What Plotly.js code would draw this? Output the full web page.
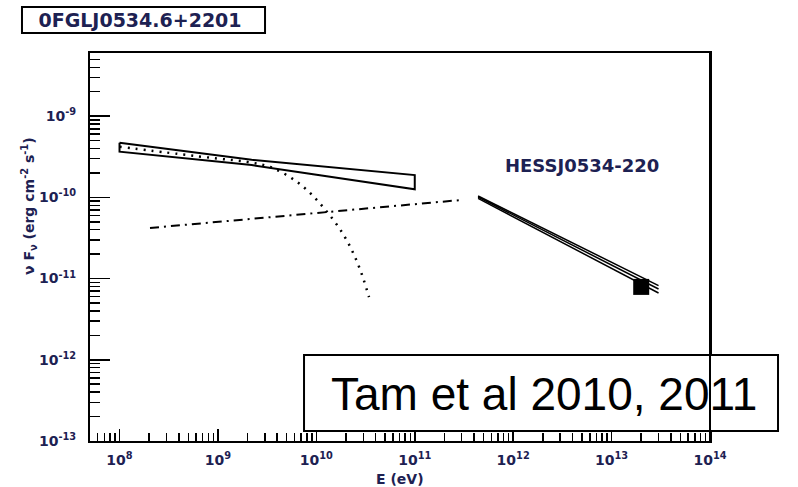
<!DOCTYPE html>
<html>
<head>
<meta charset="utf-8">
<script src="https://cdn.plot.ly/plotly-3.0.1.min.js"></script>
<style>
  html, body { margin: 0; padding: 0; background: #ffffff; }
  #chart { width: 798px; height: 487px; }
</style>
</head>
<body>
<div id="chart"></div>
<script>
// Fermi-LAT butterfly for 0FGL J0534.6+2201 (closed outline, eV vs erg cm^-2 s^-1)
const fermiE = [1e8, 2.2e9, 1e11, 1e11, 2.2e9, 1e8, 1e8];
const fermiF = [4.7e-10, 2.9e-10, 1.88e-10, 1.26e-10, 2.5e-10, 3.66e-10, 4.7e-10];

// Power law with exponential cutoff
const cutoffE = [1e8, 4e8, 1e9, 2e9, 3.6e9, 6.8e9, 1.17e10, 1.95e10, 2.72e10, 3.43e10];
const cutoffF = [4.2e-10, 3.42e-10, 3.0e-10, 2.73e-10, 2.3e-10, 1.46e-10, 7.6e-11, 3.25e-11, 1.39e-11, 5.9e-12];

// Inverse-Compton model component
const icE = [2.04e8, 3.0e11];
const icF = [4.2e-11, 9.3e-11];

// HESS J0534-220 butterfly: upper, best-fit and lower lines
const hessE = [4.4e11, 3e13];
const hessUpper = [1.04e-10, 8.2e-12];
const hessMid = [1.01e-10, 7.44e-12];
const hessLower = [9.7e-11, 6.65e-12];

// HESS flux point
const hessPointE = [2.0e13];
const hessPointF = [7.9e-12];

// Decade tick labels
const xTickVals = [1e8, 1e9, 1e10, 1e11, 1e12, 1e13, 1e14];
const xTickText = ['10<sup>8</sup>', '10<sup>9</sup>', '10<sup>10</sup>', '10<sup>11</sup>',
                   '10<sup>12</sup>', '10<sup>13</sup>', '10<sup>14</sup>'];
const yTickVals = [1e-13, 1e-12, 1e-11, 1e-10, 1e-9];
const yTickText = ['10<sup>-13</sup>', '10<sup>-12</sup>', '10<sup>-11</sup>', '10<sup>-10</sup>', '10<sup>-9</sup>'];

const labelColor = '#1d2152';
const boldFont = {family: 'DejaVu Sans', weight: 'bold', color: labelColor};

const traces = [
  {x: fermiE, y: fermiF, mode: 'lines', line: {color: '#000', width: 2}, hoverinfo: 'skip'},
  {x: cutoffE, y: cutoffF, mode: 'lines', line: {color: '#000', width: 2.5, dash: '2px,6px', shape: 'spline'}, hoverinfo: 'skip'},
  {x: icE, y: icF, mode: 'lines', line: {color: '#000', width: 2, dash: '9px,5px,2px,5px'}, hoverinfo: 'skip'},
  {x: hessE, y: hessUpper, mode: 'lines', line: {color: '#000', width: 1.5}, hoverinfo: 'skip'},
  {x: hessE, y: hessMid, mode: 'lines', line: {color: '#000', width: 1.5}, hoverinfo: 'skip'},
  {x: hessE, y: hessLower, mode: 'lines', line: {color: '#000', width: 1.5}, hoverinfo: 'skip'},
  {x: hessPointE, y: hessPointF, mode: 'markers', marker: {symbol: 'square', size: 16, color: '#000'}, hoverinfo: 'skip'}
];

const layout = {
  width: 798,
  height: 487,
  margin: {l: 90, r: 88, t: 53, b: 46},
  paper_bgcolor: '#ffffff',
  plot_bgcolor: '#ffffff',
  showlegend: false,
  title: {
    text: '0FGLJ0534.6+2201',
    font: Object.assign({size: 19}, boldFont),
    xref: 'container', yref: 'container',
    x: 140 / 798, xanchor: 'center',
    y: 1 - 20 / 487, yanchor: 'middle'
  },
  xaxis: {
    type: 'log',
    range: [7.7, 14.0],
    tickmode: 'array',
    tickvals: xTickVals,
    ticktext: xTickText,
    showgrid: false,
    zeroline: false,
    showline: true,
    linecolor: '#000',
    linewidth: 2,
    mirror: true,
    ticks: 'inside',
    ticklen: 12,
    tickwidth: 1.5,
    tickcolor: '#000',
    minor: {ticks: 'inside', ticklen: 8, tickwidth: 1.5, tickcolor: '#000', dtick: 'D1', showgrid: false},
    tickfont: Object.assign({size: 14}, boldFont),
    ticklabelstandoff: 5
  },
  yaxis: {
    type: 'log',
    range: [-13, -8.222],
    tickmode: 'array',
    tickvals: yTickVals,
    ticktext: yTickText,
    showgrid: false,
    zeroline: false,
    showline: true,
    linecolor: '#000',
    linewidth: 2,
    mirror: true,
    ticks: 'inside',
    ticklen: 20,
    tickwidth: 1.5,
    tickcolor: '#000',
    minor: {ticks: 'inside', ticklen: 10, tickwidth: 1.5, tickcolor: '#000', dtick: 'D1', showgrid: false},
    tickfont: Object.assign({size: 14}, boldFont),
    ticklabelstandoff: 9
  },
  shapes: [
    // title frame
    {type: 'rect', xref: 'paper', yref: 'paper', x0: -0.1097, x1: 0.2823, y0: 1.0515, y1: 1.1186,
     line: {color: '#000', width: 2}, fillcolor: 'rgba(0,0,0,0)', layer: 'above'},
    // citation box
    {type: 'rect', xref: 'paper', yref: 'paper', x0: 0.3452, x1: 1.1097, y0: 0.0258, y1: 0.2216,
     line: {color: '#000', width: 2}, fillcolor: '#ffffff', layer: 'above'},
    // right frame edge drawn over the citation box
    {type: 'line', xref: 'paper', yref: 'paper', x0: 1, x1: 1, y0: 0, y1: 1,
     line: {color: '#000', width: 2}, layer: 'above'}
  ],
  annotations: [
    {text: 'ν F<sub>ν</sub> (erg cm<sup>-2</sup> s<sup>-1</sup>)', textangle: -90,
     xref: 'paper', yref: 'paper', x: (29 - 90) / 620, y: (441 - 206) / 388,
     xanchor: 'center', yanchor: 'middle', showarrow: false,
     font: Object.assign({size: 14}, boldFont)},
    {text: 'E (eV)', xref: 'paper', yref: 'paper',
     x: 0.5, y: (441 - 479) / 388, xanchor: 'center', yanchor: 'middle',
     showarrow: false, font: Object.assign({size: 14}, boldFont)},
    {text: 'HESSJ0534-220', xref: 'paper', yref: 'paper',
     x: (582 - 90) / 620, y: (441 - 165) / 388, xanchor: 'center', yanchor: 'middle',
     showarrow: false, font: Object.assign({size: 18}, boldFont)},
    {text: 'Tam et al 2010, 2011', xref: 'paper', yref: 'paper',
     x: (544 - 90) / 620, y: (441 - 394) / 388, xanchor: 'center', yanchor: 'middle',
     showarrow: false, font: {family: 'Liberation Sans, Arial, sans-serif', size: 46, color: '#000'}}
  ]
};

Plotly.newPlot('chart', traces, layout, {staticPlot: true, displayModeBar: false});
</script>
</body>
</html>
